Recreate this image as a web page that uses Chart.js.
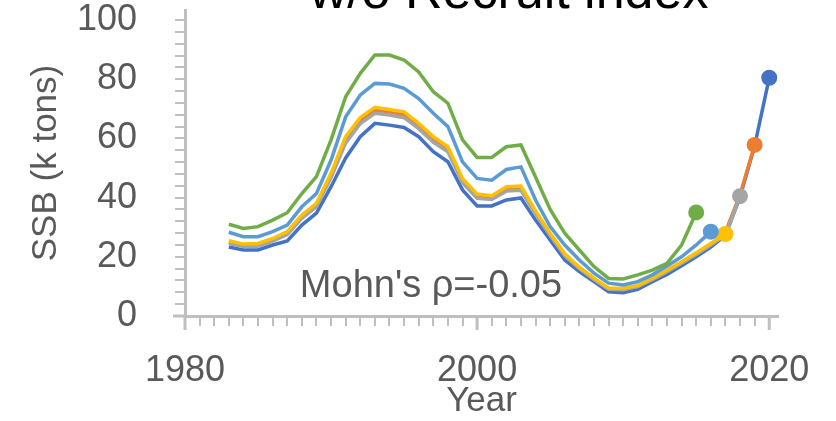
<!DOCTYPE html>
<html>
<head>
<meta charset="utf-8">
<script src="https://cdn.jsdelivr.net/npm/chart.js@4"></script>
<style>
  html, body { margin: 0; padding: 0; background: #fff; overflow: hidden; }
  #wrap { position: relative; width: 836px; height: 421px; }
  #title {
    position: absolute; left: 509px; top: -36px; transform: translateX(-50%);
    font: 52px/52px "Liberation Sans", Arial, sans-serif; color: #000; white-space: nowrap;
  }
  #mohn {
    position: absolute; left: 431px; top: 264px; transform: translateX(-50%);
    font: 38px/40px "Liberation Sans", Arial, sans-serif; color: #595959; white-space: nowrap;
  }
</style>
</head>
<body>
<div id="wrap">
  <canvas id="ssbChart" width="836" height="421"></canvas>
  <div id="title">w/o Recruit index</div>
  <div id="mohn">Mohn's ρ=-0.05</div>
</div>
<script>
const years = [1983, 1984, 1985, 1986, 1987, 1988, 1989, 1990, 1991, 1992,
  1993, 1994, 1995, 1996, 1997, 1998, 1999, 2000, 2001, 2002,
  2003, 2004, 2005, 2006, 2007, 2008, 2009, 2010, 2011, 2012,
  2013, 2014, 2015, 2016, 2017, 2018, 2019, 2020];

// retrospective peels, terminal year in the name
const ssb2020 = [23.3, 22.3, 22.3, 24, 25.4, 30.7, 34.8, 43.7, 53.4, 60.6,
  65.1, 64.5, 63.7, 60.6, 55.5, 52.1, 42.6, 37.2, 37.2, 39.2,
  39.9, 32.4, 25.7, 18.9, 15, 11.6, 8.2, 7.9, 9, 11.6,
  14, 17, 20, 23.3, 27.2, 40.2, 57.5, 80.5];
const ssb2019 = [25, 24, 24.1, 25.8, 28, 33.6, 37.6, 47.5, 59.5, 66,
  69.5, 69, 68, 64.3, 59.7, 56.4, 45.8, 40.5, 40, 43,
  43.2, 35, 27.6, 20.6, 16.2, 12.5, 9.2, 9.1, 10.1, 12.5,
  15.2, 18, 21, 24.2, 28.3, 41, 57.8];
const ssb2018 = [24.5, 23.5, 23.6, 25.3, 27.5, 33, 37, 46.8, 58.5, 65,
  68.5, 67.9, 67, 63.3, 58.7, 55.5, 45, 39.8, 39.4, 42.2,
  42.5, 34.5, 27.2, 20.3, 16, 12.3, 9, 8.9, 9.9, 12.3,
  15, 17.8, 20.8, 24, 27.3, 40.5];
const ssb2017 = [25.4, 24.3, 24.5, 26.2, 28.5, 34.1, 38.1, 48.2, 60.6, 67.1,
  70.5, 69.8, 69, 65.1, 60.6, 57.2, 46.5, 41.2, 40.6, 43.7,
  43.9, 35.5, 28, 21, 16.5, 12.8, 9.5, 9.4, 10.3, 12.8,
  15.5, 18.3, 21.4, 24.5, 27.7];
const ssb2016 = [28.3, 26.8, 26.8, 28.5, 30.7, 36.9, 41.4, 52.7, 67.3, 74.7,
  78.6, 78.4, 76.9, 73.5, 68.5, 64, 52.1, 46.5, 45.9, 49.5,
  50.4, 39.2, 30.2, 24, 18.9, 14.5, 11.1, 10.5, 11.6, 13.9,
  16.9, 20, 24, 28.5];
const ssb2015 = [31, 29.6, 30.2, 32.4, 34.9, 41.4, 47.1, 59.5, 74.1, 82,
  88.2, 88.2, 86.5, 82.5, 75.8, 71.9, 59.5, 53.6, 53.6, 57.2,
  57.8, 47, 36, 28, 22.3, 16.7, 12.7, 12.5, 13.9, 15.5,
  17.8, 24, 35];

const xTickLabels = [1980, 2000, 2020];
const yTickLabels = [0, 20, 40, 60, 80, 100];

function toPoints(values) {
  return values.map((v, i) => ({ x: years[i], y: v }));
}

function peel(label, values, color) {
  const last = values.length - 1;
  return {
    label: label,
    data: toPoints(values),
    borderColor: color,
    backgroundColor: color,
    borderWidth: 3.5,
    tension: 0,
    pointRadius: ctx => ctx.dataIndex === last ? 8 : 0,
    pointHoverRadius: ctx => ctx.dataIndex === last ? 8 : 0,
    pointBorderWidth: 0
  };
}

Chart.defaults.font.family = '"Liberation Sans", Arial, sans-serif';
Chart.defaults.color = '#595959';

// first dataset is painted on top
const datasets = [
  peel("2015", ssb2015, "#70AD47"),
  peel("2016", ssb2016, "#5B9BD5"),
  peel("2017", ssb2017, "#FFC000"),
  peel("2018", ssb2018, "#A5A5A5"),
  peel("2019", ssb2019, "#ED7D31"),
  peel("2020", ssb2020, "#4472C4")
];

const axisColor = "#BFBFBF";

function near(list, v) {
  return list.some(t => Math.abs(t - v) < 1e-6);
}

// Excel style: longer major ticks on x, x axis running a bit past the y axis
const majorTicks = {
  id: "majorTicks",
  afterDraw(chart) {
    const { ctx, scales: { x, y } } = chart;
    ctx.save();
    ctx.strokeStyle = axisColor;
    ctx.lineWidth = 3;
    ctx.beginPath();
    xTickLabels.forEach(v => {
      const px = x.getPixelForValue(v);
      ctx.moveTo(px, y.bottom);
      ctx.lineTo(px, y.bottom + 14);
    });
    const py = y.getPixelForValue(0);
    ctx.moveTo(x.left - 12, py);
    ctx.lineTo(x.left, py);
    ctx.stroke();
    ctx.restore();
  }
};

new Chart(document.getElementById("ssbChart"), {
  type: "line",
  data: { datasets: datasets },
  plugins: [majorTicks],
  options: {
    responsive: false,
    animation: false,
    devicePixelRatio: 1,
    layout: { padding: { top: 10, right: 58, left: 0, bottom: 0 } },
    plugins: {
      legend: { display: false },
      tooltip: { enabled: false }
    },
    scales: {
      x: {
        type: "linear",
        min: 1980,
        max: 2020.6,
        afterFit: scale => {
          scale.height = 105;
          scale.paddingLeft = 0;
          scale.paddingRight = 0;
        },
        ticks: {
          stepSize: 1,
          includeBounds: false,
          autoSkip: false,
          maxRotation: 0,
          padding: 23,
          font: { size: 36 },
          callback: v => near(xTickLabels, v) ? String(Math.round(v)) : ""
        },
        grid: {
          drawOnChartArea: false,
          drawTicks: true,
          tickLength: 10,
          color: axisColor,
          lineWidth: 2
        },
        border: { color: axisColor, width: 3 },
        title: {
          display: true,
          text: "Year",
          font: { size: 35, lineHeight: 1.1 },
          padding: 0
        }
      },
      y: {
        min: 0,
        max: 103.4,
        afterFit: scale => {
          scale.width = 185;
          scale.paddingTop = 0;
          scale.paddingBottom = 0;
        },
        ticks: {
          stepSize: 4,
          includeBounds: false,
          autoSkip: false,
          padding: 38,
          font: { size: 36 },
          callback: v => near(yTickLabels, v) ? String(Math.round(v)) : ""
        },
        grid: {
          drawOnChartArea: false,
          drawTicks: true,
          tickLength: 10,
          color: axisColor,
          lineWidth: 2
        },
        border: { color: axisColor, width: 3 },
        title: {
          display: true,
          text: "SSB (k tons)",
          font: { size: 35, lineHeight: 1.2 },
          padding: { top: 25, bottom: 0 }
        }
      }
    }
  }
});
</script>
</body>
</html>
